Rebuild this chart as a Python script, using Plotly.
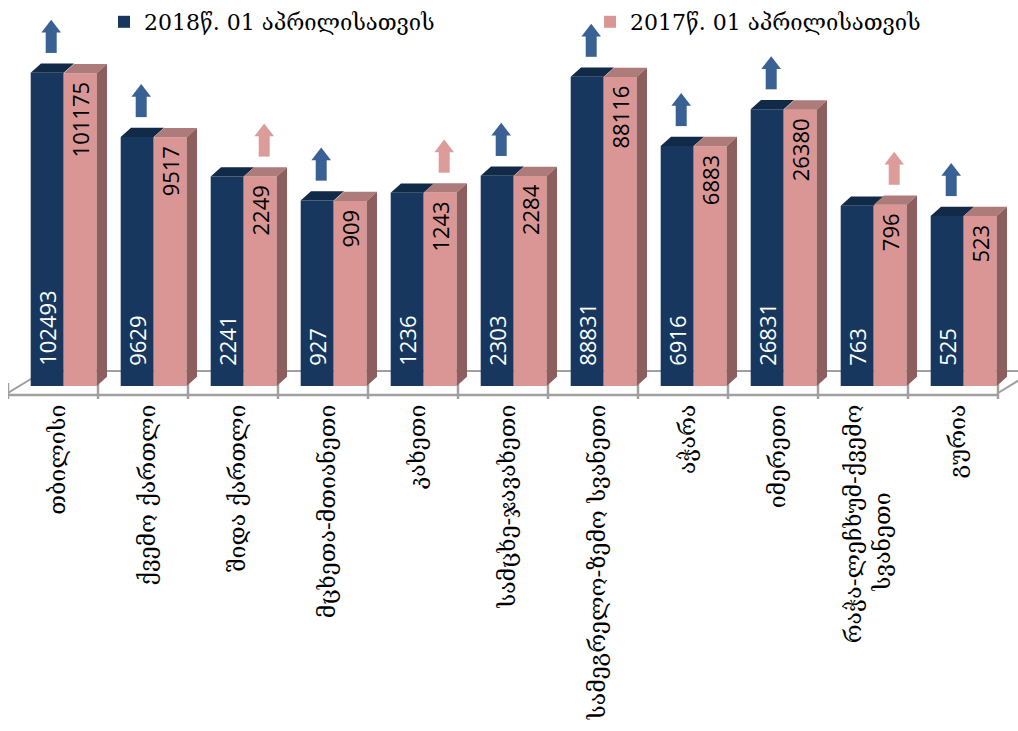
import numpy as np
import plotly.graph_objects as go

# ---------------- data ----------------
regions = ["თბილისი", "ქვემო ქართლი", "შიდა ქართლი", "მცხეთა-მთიანეთი", "კახეთი",
           "სამცხე-ჯავახეთი", "სამეგრელო-ზემო სვანეთი", "აჭარა", "იმერეთი",
           "რაჭა-ლეჩხუმ-ქვემო<br>სვანეთი" + "\u00a0" * 12, "გურია"]
v2018 = [102493, 9629, 2241, 927, 1236, 2303, 88831, 6916, 26831, 763, 525]
v2017 = [101175, 9517, 2249, 909, 1243, 2284, 88116, 6883, 26380, 796, 523]
series_names = ["2018წ. 01 აპრილისათვის", "2017წ. 01 აპრილისათვის"]

# ---------------- styling / geometry ----------------
C_DARK, C_DARK_TOP = "#17375e", "#112a48"
C_PINK, C_PINK_TOP, C_PINK_SIDE = "#d99694", "#ad7b79", "#8c5e5d"
C_ARROW_UP18, C_ARROW_UP17 = "#3a6193", "#dc9c9a"
PXX, PXY = 90.0, 62.5          # pixels per x unit / per decade
W = 33 / PXX                   # bar width (x units)
DX, DY = 10.3 / PXX, 9.3 / PXY # 3D depth
NB = "\u00a0"

n = len(regions)
xs = np.arange(n)
h18 = np.log10(v2018)
h17 = np.log10(v2017)

fig = go.Figure()
fig.add_bar(x=xs, y=h18, width=W, offset=-W, marker=dict(color=C_DARK, line=dict(width=0)),
            name=series_names[0], text=[NB * 3 + str(v) for v in v2018],
            textposition="inside", insidetextanchor="start", textangle=-90,
            constraintext="none", textfont=dict(family="Open Sans", size=22, color="white"),
            hoverinfo="skip", legend="legend")
fig.add_bar(x=xs, y=h17, width=W, offset=0, marker=dict(color=C_PINK, line=dict(width=0)),
            name=series_names[1], text=[str(v) + NB for v in v2017],
            textposition="inside", insidetextanchor="end", textangle=-90,
            constraintext="none", textfont=dict(family="Open Sans", size=22, color="black"),
            hoverinfo="skip", legend="legend2")


def poly_trace(px, py, color):
    return go.Scatter(x=px, y=py, mode="lines", fill="toself", fillcolor=color,
                      line=dict(width=0, color=color), showlegend=False, hoverinfo="skip")


tx, ty, px_, py_, sx, sy = [], [], [], [], [], []
for i in range(n):
    x0, x1 = i - W, i
    tx += [x0, x1, x1 + DX, x0 + DX, x0, None]
    ty += [h18[i], h18[i], h18[i] + DY, h18[i] + DY, h18[i], None]
    x0, x1 = i, i + W
    px_ += [x0, x1, x1 + DX, x0 + DX, x0, None]
    py_ += [h17[i], h17[i], h17[i] + DY, h17[i] + DY, h17[i], None]
    sx += [x1, x1 + DX, x1 + DX, x1, x1, None]
    sy += [0, DY, h17[i] + DY, h17[i], 0, None]
fig.add_trace(poly_trace(tx, ty, C_DARK_TOP))
fig.add_trace(poly_trace(px_, py_, C_PINK_TOP))
fig.add_trace(poly_trace(sx, sy, C_PINK_SIDE))

# arrows: shaft + head, above the larger bar
ax, ay_shaft, ay_head, acol = [], [], [], []
for i in range(n):
    up18 = v2018[i] >= v2017[i]
    cx = (i - W / 2 if up18 else i + W / 2) + 4 / PXX
    base = max(h18[i], h17[i]) + DY + 14 / PXY
    ax.append(cx)
    ay_shaft.append(base + 8.5 / PXY)
    ay_head.append(base + (17 + 4.25) / PXY)
    acol.append(C_ARROW_UP18 if up18 else C_ARROW_UP17)
fig.add_trace(go.Scatter(x=ax, y=ay_shaft, mode="markers", showlegend=False, hoverinfo="skip",
                         marker=dict(symbol="line-ns", size=17, line=dict(width=11, color=acol))))
fig.add_trace(go.Scatter(x=ax, y=ay_head, mode="markers", showlegend=False, hoverinfo="skip",
                         marker=dict(symbol="triangle-up", size=17, color=acol, line=dict(width=0))))

# floor decoration
XMIN = -55.7 / PXX
XMAX = XMIN + 1010 / PXX
YMIN = -13 / PXY
GRAY = "#a0a0a0"
shapes = []
shapes.append(dict(type="line", xref="x", yref="y", x0=XMIN, x1=XMIN + 990 / PXX,
                   y0=-9 / PXY, y1=-9 / PXY, line=dict(color=GRAY, width=2.5), layer="below"))
shapes.append(dict(type="line", xref="x", yref="y", x0=XMIN + 36 / PXX, x1=XMAX,
                   y0=15 / PXY, y1=15 / PXY, line=dict(color=GRAY, width=2), layer="below"))
for xb in [XMIN, XMIN + 990 / PXX]:
    shapes.append(dict(type="line", xref="x", yref="y", x0=xb, x1=xb + 36 / PXX,
                       y0=-7 / PXY, y1=15 / PXY, line=dict(color=GRAY, width=2), layer="below"))
for k in range(n + 1):
    xb = XMIN + k
    shapes.append(dict(type="line", xref="x", yref="y", x0=xb, x1=xb,
                       y0=3 / PXY, y1=YMIN, line=dict(color=GRAY, width=2.5), layer="below"))

leg_common = dict(orientation="h", xanchor="left", yanchor="middle", y=1 - 22 / 399,
                  font=dict(family="DejaVu Serif", size=22, color="black"),
                  bgcolor="rgba(0,0,0,0)")
fig.update_layout(
    width=1018, height=731, template="none",
    paper_bgcolor="white", plot_bgcolor="white",
    margin=dict(l=8, r=0, t=0, b=332, autoexpand=False),
    barmode="overlay", showlegend=True,
    shapes=shapes,
    legend=dict(x=(104 - 8) / 1010, **leg_common),
    legend2=dict(x=(590 - 8) / 1010, **leg_common),
    xaxis=dict(range=[XMIN, XMAX], tickmode="array", tickvals=xs - 0.063, ticktext=regions,
               tickangle=-90, showgrid=False, zeroline=False, showline=False, ticks="",
               tickfont=dict(family="DejaVu Serif", size=23, color="black"), fixedrange=True),
    yaxis=dict(range=[YMIN, 386 / PXY], visible=False, showgrid=False, zeroline=False),
)

fig.write_html("out.html", config={"displayModeBar": False},
               post_script="document.body.style.margin='0';document.body.style.overflow='hidden';")
